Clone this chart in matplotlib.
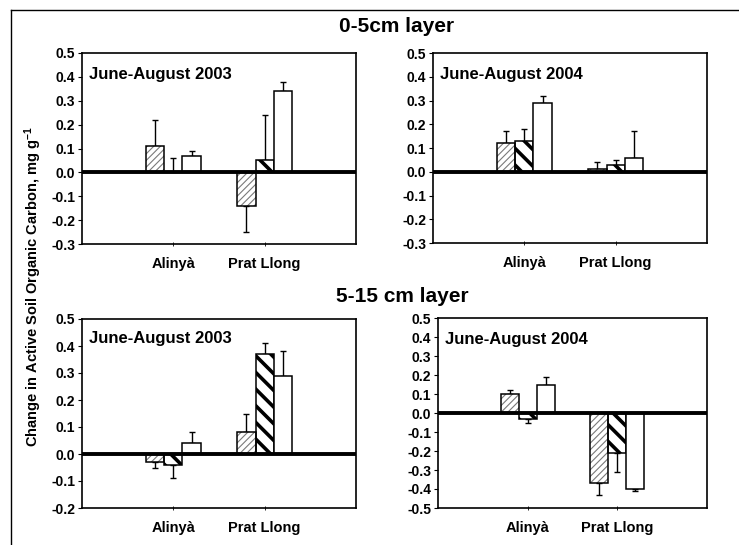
import matplotlib
matplotlib.use("Agg")
import matplotlib.pyplot as plt
from matplotlib.lines import Line2D
import numpy as np

plt.rcParams['font.family'] = ['Liberation Sans', 'DejaVu Sans']
plt.rcParams['font.weight'] = 'bold'
plt.rcParams['mathtext.fontset'] = 'custom'
plt.rcParams['mathtext.rm'] = 'Liberation Sans:bold'
plt.rcParams['mathtext.bf'] = 'Liberation Sans:bold'
plt.rcParams['mathtext.it'] = 'Liberation Sans:bold'

categories = ["Alinyà", "Prat Llong"]

# 0-5 cm layer, 2003
top03_s1 = [0.11, -0.14]; top03_s1_err = [0.11, 0.11]
top03_s2 = [0.00, 0.05];  top03_s2_err = [0.06, 0.19]
top03_s3 = [0.07, 0.34];  top03_s3_err = [0.02, 0.04]
# 0-5 cm layer, 2004
top04_s1 = [0.12, 0.01];  top04_s1_err = [0.05, 0.03]
top04_s2 = [0.13, 0.03];  top04_s2_err = [0.05, 0.02]
top04_s3 = [0.29, 0.06];  top04_s3_err = [0.03, 0.11]
# 5-15 cm layer, 2003
bot03_s1 = [-0.03, 0.08]; bot03_s1_err = [0.02, 0.07]
bot03_s2 = [-0.04, 0.37]; bot03_s2_err = [0.05, 0.04]
bot03_s3 = [0.04, 0.29];  bot03_s3_err = [0.04, 0.09]
# 5-15 cm layer, 2004
bot04_s1 = [0.10, -0.37]; bot04_s1_err = [0.02, 0.06]
bot04_s2 = [-0.03, -0.21]; bot04_s2_err = [0.02, 0.10]
bot04_s3 = [0.15, -0.40]; bot04_s3_err = [0.04, 0.01]

period_labels = ["June-August 2003", "June-August 2004"]
layer_titles = ["0-5cm layer", "5-15 cm layer"]
ylabel = r"Change in Active Soil Organic Carbon, mg g$^{-1}$"

W, H = 739, 545
fig = plt.figure(figsize=(W / 100, H / 100), dpi=100)


def px_axes(l, t, r, b):
    return fig.add_axes([l / W, 1 - b / H, (r - l) / W, (b - t) / H])


def fmt(v):
    v = round(float(v), 1)
    if abs(v) < 1e-9:
        v = 0.0
    return f"{v:.1f}"


def panel(ax, s1, e1, s2, e2, s3, e3, ylim, yticks, label, label_y):
    x = np.arange(1, len(categories) + 1)
    bw = 0.2
    offs = [-bw, 0, bw]
    # series 1: fine gray hatch
    with plt.rc_context({'hatch.linewidth': 0.8}):
        b1 = ax.bar(x + offs[0], s1, bw, color='white', edgecolor='#7a7a7a',
                    hatch='/////', linewidth=0, zorder=2)
    for p in b1:
        if hasattr(p, 'set_hatch_linewidth'):
            p.set_hatch_linewidth(0.8)
    ax.bar(x + offs[0], s1, bw, fill=False, edgecolor='black', linewidth=1.1, zorder=3)
    # series 2: bold black hatch
    with plt.rc_context({'hatch.linewidth': 2.6}):
        b2 = ax.bar(x + offs[1], s2, bw, color='white', edgecolor='black',
                    hatch='\\\\', linewidth=1.1, zorder=2)
    for p in b2:
        if hasattr(p, 'set_hatch_linewidth'):
            p.set_hatch_linewidth(2.6)
    # series 3: white
    ax.bar(x + offs[2], s3, bw, color='white', edgecolor='black', linewidth=1.1, zorder=2)

    for vals, errs, off in [(s1, e1, offs[0]), (s2, e2, offs[1]), (s3, e3, offs[2])]:
        vals = np.array(vals); errs = np.array(errs)
        lower = np.where(vals < 0, errs, 0)
        upper = np.where(vals >= 0, errs, 0)
        ax.errorbar(x + off, vals, yerr=[lower, upper], fmt='none', ecolor='black',
                    elinewidth=1.0, capsize=2.5, capthick=1.0, zorder=1)

    ax.axhline(0, color='black', lw=2.8, zorder=4)
    ax.set_xlim(0, 3)
    ax.set_ylim(*ylim)
    ax.set_yticks(yticks)
    ax.set_yticklabels([fmt(v) for v in yticks], fontsize=10, fontweight='bold')
    ax.set_xticks(x)
    ax.set_xticklabels(categories, fontsize=10.5, fontweight='bold')
    ax.tick_params(axis='y', direction='out', length=3, width=0.8, pad=2)
    ax.tick_params(axis='x', direction='inout', length=3, width=0.6, pad=8)
    for sp in ax.spines.values():
        sp.set_linewidth(1.2)
    ax.text(0.025, label_y, label, transform=ax.transAxes, fontsize=12,
            fontweight='bold', va='baseline', ha='left')


ax1 = px_axes(82, 53, 356, 244)
panel(ax1, top03_s1, top03_s1_err, top03_s2, top03_s2_err, top03_s3, top03_s3_err,
      (-0.3, 0.5), np.arange(-0.3, 0.51, 0.1), period_labels[0], 0.865)
ax2 = px_axes(433, 53, 707, 243)
panel(ax2, top04_s1, top04_s1_err, top04_s2, top04_s2_err, top04_s3, top04_s3_err,
      (-0.3, 0.5), np.arange(-0.3, 0.51, 0.1), period_labels[1], 0.865)
ax3 = px_axes(82, 319, 356, 508)
panel(ax3, bot03_s1, bot03_s1_err, bot03_s2, bot03_s2_err, bot03_s3, bot03_s3_err,
      (-0.2, 0.5), np.arange(-0.2, 0.51, 0.1), period_labels[0], 0.873)
ax4 = px_axes(438, 318, 707, 508)
panel(ax4, bot04_s1, bot04_s1_err, bot04_s2, bot04_s2_err, bot04_s3, bot04_s3_err,
      (-0.5, 0.5), np.arange(-0.5, 0.51, 0.1), period_labels[1], 0.863)

fig.text(397 / W, 1 - 27 / H, layer_titles[0], fontsize=15, fontweight='bold',
         ha='center', va='center')
fig.text(402 / W, 1 - 297 / H, layer_titles[1], fontsize=15, fontweight='bold',
         ha='center', va='center')
fig.text(33 / W, 1 - 287 / H, ylabel, fontsize=10.5, fontweight='bold', rotation=90,
         ha='center', va='center')

# outer frame (top and left edges visible)
fig.add_artist(Line2D([11 / W, 1.0], [1 - 10 / H, 1 - 10 / H], color='black', lw=1.0,
                      transform=fig.transFigure))
fig.add_artist(Line2D([11 / W, 11 / W], [1 - 10 / H, 0.0], color='black', lw=1.0,
                      transform=fig.transFigure))

fig.savefig("out.png", dpi=100)
